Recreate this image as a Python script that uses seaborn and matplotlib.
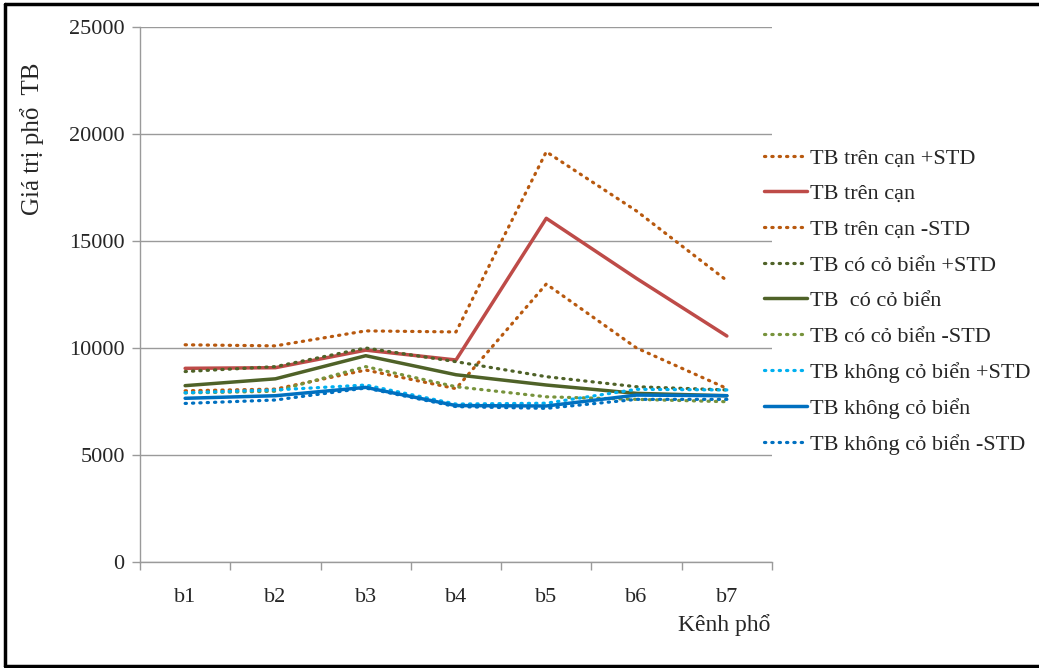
import matplotlib
import matplotlib.pyplot as plt
import pandas as pd
import seaborn as sns
from matplotlib.lines import Line2D
from matplotlib.ticker import FixedLocator, MultipleLocator

matplotlib.use("Agg")

# --- data ---
bands = ["b1", "b2", "b3", "b4", "b5", "b6", "b7"]

tren_can_plus = [10150, 10100, 10800, 10750, 19170, 16400, 13150]
tren_can = [9050, 9080, 9900, 9440, 16060, 13250, 10560]
tren_can_minus = [8000, 8080, 8970, 8100, 12990, 10000, 8110]
co_co_plus = [8900, 9130, 10000, 9360, 8660, 8190, 8040]
co_co = [8240, 8560, 9640, 8750, 8270, 7880, 7770]
co_co_minus = [7900, 7980, 9130, 8190, 7720, 7600, 7490]
khong_plus = [7910, 8040, 8270, 7380, 7420, 8070, 8040]
khong = [7650, 7770, 8160, 7310, 7290, 7800, 7770]
khong_minus = [7410, 7570, 8130, 7260, 7180, 7600, 7600]

series_names = [
    "TB trên cạn +STD", "TB trên cạn", "TB trên cạn -STD",
    "TB có cỏ biển +STD", "TB  có cỏ biển", "TB có cỏ biển -STD",
    "TB không cỏ biển +STD", "TB không cỏ biển", "TB không cỏ biển -STD",
]
series_values = [
    tren_can_plus, tren_can, tren_can_minus,
    co_co_plus, co_co, co_co_minus,
    khong_plus, khong, khong_minus,
]

# style per series: (colour, dotted?)
styles = [
    ("#B8590F", True), ("#BE4B48", False), ("#B8590F", True),
    ("#4F6228", True), ("#4F6228", False), ("#77933C", True),
    ("#00B0F0", True), ("#0070C0", False), ("#0070C0", True),
]

sns.set_theme(style="white")
plt.rcParams["font.family"] = ["Liberation Serif", "DejaVu Serif"]

fig = plt.figure(figsize=(10.39, 6.68), dpi=100)
ax = fig.add_axes([140 / 1039, 106 / 668, 632 / 1039, 535 / 668])

dot = (0, (0.4, 1.9))
for name, vals, (col, dotted) in zip(series_names, series_values, styles):
    df = pd.DataFrame({"band": bands, "value": vals})
    sns.lineplot(
        data=df, x="band", y="value", ax=ax, color=col,
        linewidth=2.3 if dotted else 2.5,
        linestyle=dot if dotted else "-",
        dash_capstyle="round", label=name, sort=False,
    )

ax.set_xlim(-0.5, 6.5)
ax.set_ylim(0, 25000)
ax.yaxis.set_major_locator(MultipleLocator(5000))
ax.grid(axis="y", color="#9A9A9A", linewidth=1.0)
ax.set_axisbelow(True)

for s in ["top", "right"]:
    ax.spines[s].set_visible(False)
for s in ["left", "bottom"]:
    ax.spines[s].set_color("#9A9A9A")
    ax.spines[s].set_linewidth(1.0)

ax.tick_params(axis="y", which="major", length=6, color="#9A9A9A", width=1,
               direction="out", labelsize=16, pad=5, left=True)
ax.tick_params(axis="x", which="major", length=0, labelsize=16, pad=19)
ax.xaxis.set_minor_locator(FixedLocator([i - 0.5 for i in range(8)]))
ax.tick_params(axis="x", which="minor", length=6, color="#9A9A9A", width=1,
               direction="out", bottom=True)
ax.set_xlabel("")
ax.set_ylabel("")

fig.text(32 / 1039, (668 - 139) / 668, "Giá trị phổ  TB", rotation=90,
         ha="center", va="center", fontsize=18)
fig.text(770 / 1039, (668 - 625) / 668, "Kênh phổ", ha="right", va="center",
         fontsize=17)

ax.legend(loc="upper left", bbox_to_anchor=(764 / 1039, (668 - 148) / 668),
          bbox_transform=fig.transFigure, frameon=False, fontsize=16,
          handlelength=1.95, handletextpad=0.12, labelspacing=0.68,
          borderaxespad=0, borderpad=0)

# outer frame (right edge is cut off in the reference)
for xs, ys in [((5, 1039), (664, 664)), ((5, 5), (2, 664)), ((5, 1039), (2, 2))]:
    fig.add_artist(Line2D([x / 1039 for x in xs], [y / 668 for y in ys],
                          color="black", linewidth=2.5,
                          transform=fig.transFigure))

fig.savefig("out.png", dpi=100)
